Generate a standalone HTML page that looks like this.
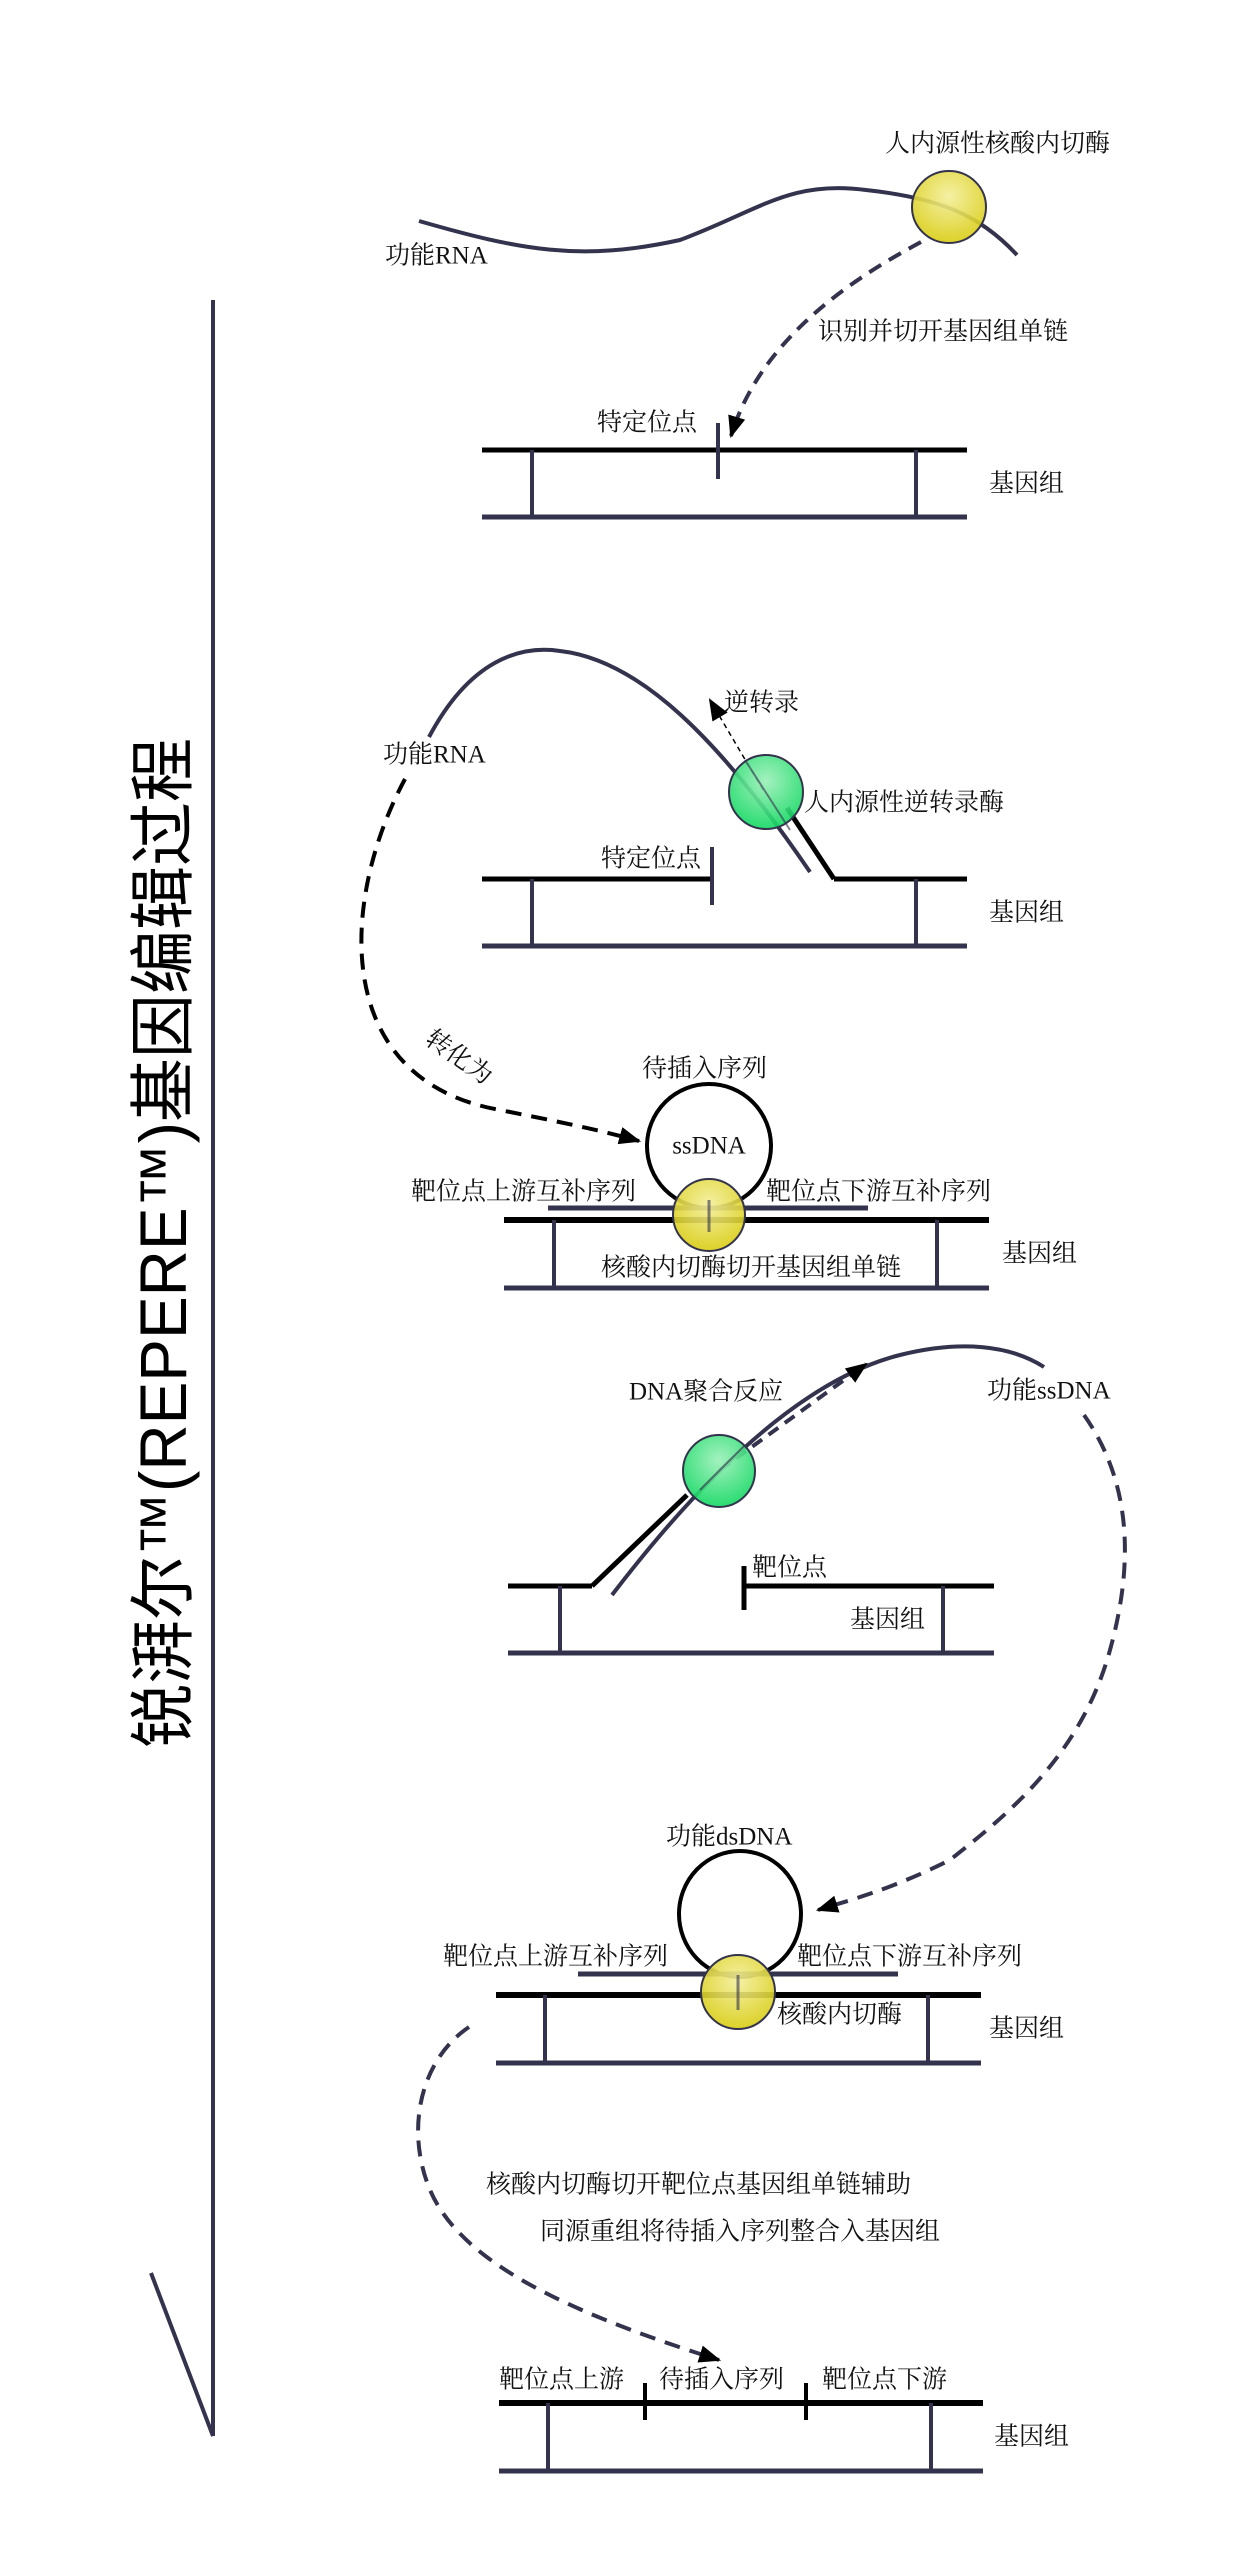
<!DOCTYPE html>
<html><head><meta charset="utf-8"><style>
html,body{margin:0;padding:0;background:#fff;}
svg{display:block;}
text{font-family:"Liberation Serif","Noto Serif CJK SC","Noto Sans CJK SC",serif;font-size:25px;fill:#111;}
.t{font-family:"Liberation Sans","Noto Sans CJK SC",sans-serif;font-size:66px;fill:#000;}
</style></head><body>
<svg width="1239" height="2560" viewBox="0 0 1239 2560" xmlns="http://www.w3.org/2000/svg">
<defs>
<radialGradient id="yl" cx="50%" cy="35%" r="65%"><stop offset="0" stop-color="#f4ef9a" stop-opacity="0.9"/><stop offset="1" stop-color="#d8cc10" stop-opacity="0.9"/></radialGradient>
<radialGradient id="gr" cx="50%" cy="35%" r="65%"><stop offset="0" stop-color="#9af0b8" stop-opacity="0.9"/><stop offset="1" stop-color="#10d860" stop-opacity="0.9"/></radialGradient>
<marker id="ah" viewBox="0 0 10 10" refX="9" refY="5" markerWidth="7" markerHeight="7" orient="auto-start-reverse" markerUnits="userSpaceOnUse"><path d="M0,0L10,5L0,10z" fill="#000"/></marker>
<marker id="ab" viewBox="0 0 10 10" refX="9" refY="5" markerWidth="22" markerHeight="22" orient="auto" markerUnits="userSpaceOnUse"><path d="M0,1L10,5L0,9z" fill="#000"/></marker>
</defs>

<!-- title -->
<text class="t" transform="translate(163,1748) rotate(-90)" dominant-baseline="central" textLength="1010" lengthAdjust="spacingAndGlyphs">锐湃尔™(REPERE™)基因编辑过程</text>
<line x1="213" y1="300" x2="213" y2="2436" stroke="#33334d" stroke-width="4"/>
<line x1="151" y1="2273" x2="213" y2="2436" stroke="#33334d" stroke-width="4"/>

<g fill="none" stroke-linecap="butt">
<!-- section 1 -->
<path d="M419,221 C520,250 580,262 680,240 C760,210 790,180 866,190 C940,198 980,215 1017,255" stroke="#33334d" stroke-width="4"/>
<path d="M921,242 C850,280 760,340 731,436" stroke="#33334d" stroke-width="4" stroke-dasharray="14,9" marker-end="url(#ab)"/>
<line x1="482" y1="450" x2="967" y2="450" stroke="#000" stroke-width="5"/>
<line x1="482" y1="517" x2="967" y2="517" stroke="#33334d" stroke-width="5"/>
<line x1="532" y1="450" x2="532" y2="517" stroke="#33334d" stroke-width="4"/>
<line x1="916" y1="450" x2="916" y2="517" stroke="#33334d" stroke-width="4"/>
<line x1="718" y1="423" x2="718" y2="479" stroke="#33334d" stroke-width="4"/>

<!-- section 2 -->
<path d="M429,737 C470,660 520,645 560,651 C640,660 720,740 810,872" stroke="#33334d" stroke-width="4"/>
<path d="M834,879 L787,808" stroke="#000" stroke-width="5"/>
<path d="M763,790 L710,700" stroke="#000" stroke-width="1.5" stroke-dasharray="5,4" marker-end="url(#ab)"/>
<line x1="482" y1="879" x2="712" y2="879" stroke="#000" stroke-width="5"/>
<line x1="834" y1="879" x2="967" y2="879" stroke="#000" stroke-width="5"/>
<line x1="712" y1="847" x2="712" y2="905" stroke="#33334d" stroke-width="4"/>
<line x1="482" y1="946" x2="967" y2="946" stroke="#33334d" stroke-width="5"/>
<line x1="532" y1="879" x2="532" y2="946" stroke="#33334d" stroke-width="4"/>
<line x1="916" y1="879" x2="916" y2="946" stroke="#33334d" stroke-width="4"/>
<path d="M405,779 C340,900 330,1080 500,1110 C560,1122 600,1130 639,1141" stroke="#000" stroke-width="4" stroke-dasharray="16,10" marker-end="url(#ab)"/>

<!-- section 3 -->
<ellipse cx="709" cy="1146" rx="62" ry="62" stroke="#000" stroke-width="4"/>
<line x1="548" y1="1208" x2="868" y2="1208" stroke="#33334d" stroke-width="5"/>
<line x1="504" y1="1220" x2="989" y2="1220" stroke="#000" stroke-width="6"/>
<line x1="504" y1="1288" x2="989" y2="1288" stroke="#33334d" stroke-width="5"/>
<line x1="554" y1="1220" x2="554" y2="1288" stroke="#33334d" stroke-width="4"/>
<line x1="937" y1="1220" x2="937" y2="1288" stroke="#33334d" stroke-width="4"/>

<!-- section 4 -->
<line x1="508" y1="1586" x2="592" y2="1586" stroke="#000" stroke-width="5"/>
<line x1="592" y1="1586" x2="687" y2="1495" stroke="#000" stroke-width="5"/>
<path d="M612,1595 C700,1480 800,1380 900,1355 C960,1340 1010,1345 1044,1367" stroke="#33334d" stroke-width="4"/>
<path d="M720,1470 L866,1364" stroke="#33334d" stroke-width="4" stroke-dasharray="12,8" marker-end="url(#ab)"/>
<line x1="744" y1="1586" x2="994" y2="1586" stroke="#000" stroke-width="5"/>
<line x1="744" y1="1566" x2="744" y2="1610" stroke="#000" stroke-width="5"/>
<line x1="508" y1="1653" x2="994" y2="1653" stroke="#33334d" stroke-width="5"/>
<line x1="560" y1="1586" x2="560" y2="1653" stroke="#33334d" stroke-width="4"/>
<line x1="943" y1="1586" x2="943" y2="1653" stroke="#33334d" stroke-width="4"/>
<path d="M1084,1415 C1130,1480 1135,1560 1110,1650 C1080,1760 1000,1820 950,1860 C890,1890 850,1900 818,1910" stroke="#33334d" stroke-width="4" stroke-dasharray="16,10" marker-end="url(#ab)"/>

<!-- section 5 -->
<ellipse cx="740" cy="1914" rx="61" ry="63" stroke="#000" stroke-width="4"/>
<line x1="578" y1="1974" x2="898" y2="1974" stroke="#33334d" stroke-width="5"/>
<line x1="496" y1="1995" x2="981" y2="1995" stroke="#000" stroke-width="6"/>
<line x1="496" y1="2063" x2="981" y2="2063" stroke="#33334d" stroke-width="5"/>
<line x1="545" y1="1995" x2="545" y2="2063" stroke="#33334d" stroke-width="4"/>
<line x1="928" y1="1995" x2="928" y2="2063" stroke="#33334d" stroke-width="4"/>
<path d="M469,2027 C420,2060 405,2130 430,2190 C460,2260 560,2310 719,2360" stroke="#33334d" stroke-width="4" stroke-dasharray="16,10" marker-end="url(#ab)"/>

<!-- section 6 -->
<line x1="499" y1="2403" x2="983" y2="2403" stroke="#000" stroke-width="6"/>
<line x1="499" y1="2471" x2="983" y2="2471" stroke="#33334d" stroke-width="5"/>
<line x1="548" y1="2403" x2="548" y2="2471" stroke="#33334d" stroke-width="4"/>
<line x1="931" y1="2403" x2="931" y2="2471" stroke="#33334d" stroke-width="4"/>
<line x1="645" y1="2383" x2="645" y2="2420" stroke="#000" stroke-width="4"/>
<line x1="806" y1="2383" x2="806" y2="2420" stroke="#000" stroke-width="4"/>
</g>

<!-- enzymes -->
<ellipse cx="949" cy="207" rx="37" ry="36" fill="url(#yl)" stroke="#33334d" stroke-width="2"/>
<ellipse cx="766" cy="792" rx="37" ry="37" fill="url(#gr)" stroke="#33334d" stroke-width="2"/>
<line x1="790" y1="830" x2="745" y2="760" stroke="#33334d" stroke-width="2" opacity="0.6"/>
<ellipse cx="709" cy="1215" rx="36" ry="36" fill="url(#yl)" stroke="#33334d" stroke-width="2"/>
<line x1="709" y1="1200" x2="709" y2="1232" stroke="#33334d" stroke-width="3" opacity="0.6"/>
<ellipse cx="719" cy="1471" rx="36" ry="36" fill="url(#gr)" stroke="#33334d" stroke-width="2"/>
<line x1="700" y1="1490" x2="745" y2="1445" stroke="#33334d" stroke-width="2" opacity="0.6"/>
<ellipse cx="738" cy="1992" rx="37" ry="37" fill="url(#yl)" stroke="#33334d" stroke-width="2"/>
<line x1="738" y1="1975" x2="738" y2="2010" stroke="#33334d" stroke-width="3" opacity="0.6"/>

<!-- labels -->
<g dominant-baseline="central">
<text x="885" y="144">人内源性核酸内切酶</text>
<text x="385" y="256">功能RNA</text>
<text x="818" y="332">识别并切开基因组单链</text>
<text x="597" y="423">特定位点</text>
<text x="989" y="484">基因组</text>
<text x="724" y="703">逆转录</text>
<text x="383" y="755">功能RNA</text>
<text x="804" y="803">人内源性逆转录酶</text>
<text x="601" y="859">特定位点</text>
<text x="989" y="913">基因组</text>
<text transform="translate(428,1036) rotate(35)">转化为</text>
<text x="642" y="1069">待插入序列</text>
<text x="709" y="1146" text-anchor="middle">ssDNA</text>
<text x="411" y="1192">靶位点上游互补序列</text>
<text x="766" y="1192">靶位点下游互补序列</text>
<text x="601" y="1268">核酸内切酶切开基因组单链</text>
<text x="1002" y="1254">基因组</text>
<text x="629" y="1392">DNA聚合反应</text>
<text x="987" y="1391">功能ssDNA</text>
<text x="752" y="1568">靶位点</text>
<text x="850" y="1620">基因组</text>
<text x="666" y="1837">功能dsDNA</text>
<text x="443" y="1957">靶位点上游互补序列</text>
<text x="797" y="1957">靶位点下游互补序列</text>
<text x="777" y="2015">核酸内切酶</text>
<text x="989" y="2029">基因组</text>
<text x="486" y="2185">核酸内切酶切开靶位点基因组单链辅助</text>
<text x="540" y="2232">同源重组将待插入序列整合入基因组</text>
<text x="499" y="2380">靶位点上游</text>
<text x="659" y="2380">待插入序列</text>
<text x="822" y="2380">靶位点下游</text>
<text x="994" y="2437">基因组</text>
</g>
</svg>
</body></html>
